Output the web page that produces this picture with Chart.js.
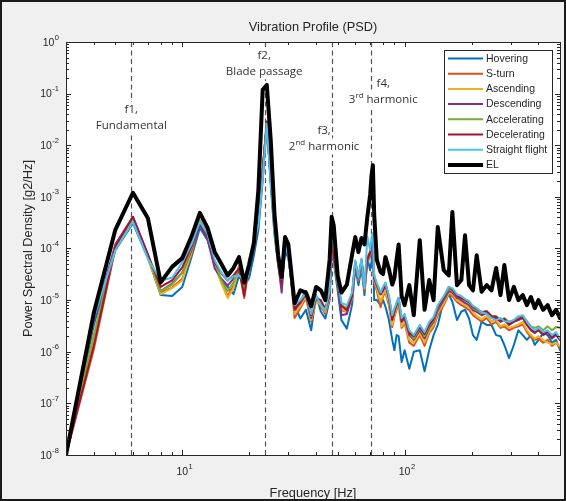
<!DOCTYPE html>
<html>
<head>
<meta charset="utf-8">
<title>Vibration Profile (PSD)</title>
<script src="https://cdn.jsdelivr.net/npm/chart.js@4.4.1/dist/chart.umd.min.js"></script>
<style>
  html, body { margin: 0; padding: 0; background: #f0f0f0; }
  canvas { display: block; }
</style>
</head>
<body>
<canvas id="chart" width="566" height="501"></canvas>
<script>
// frequency bins [Hz], shared by every series
const freq = [
  3, 4, 5, 6, 7, 8, 9, 10, 11, 12, 13, 14, 15, 16, 17, 18, 19, 20, 21, 22, 23, 24, 25, 26, 27, 28, 29, 30,
  32, 34, 36, 38, 40, 42, 44, 46, 47, 48, 50,
  52, 55, 58, 60, 62, 64, 66, 68, 70, 71, 72, 73, 75, 78, 80, 82, 85, 88, 90, 92, 94, 97, 100,
  105, 110, 117, 123, 129, 135, 141, 150, 158, 164, 172, 180, 187, 195, 203, 211, 222, 234, 246, 258,
  270, 281, 295, 310, 325, 340, 355, 370, 385, 400, 420, 440, 460, 480, 500
];

// PSD values [g2/Hz]
const hovering = [
  1e-8, 3.3e-6, 9.3e-5, 3.1e-4, 6.6e-5, 1.25e-5, 1.2e-5, 1.8e-5, 6.8e-5, 2.5e-4, 1.45e-4, 4.8e-5, 2.45e-5, 1.8e-5,
  1.3e-5, 3e-5, 1.85e-5, 2.7e-5, 7.4e-5, 2.3e-4, 2.1e-3, 2.5e-2, 1.7e-3, 1.8e-4, 4.8e-5, 1.95e-5, 8.5e-5, 6.6e-5,
  8e-6, 4.4e-6, 6.5e-6, 2.6e-6, 1.25e-5, 6e-6, 4.4e-6, 1e-5, 9.3e-5, 5.5e-5, 1.55e-5,
  4.1e-6, 2.8e-6, 8e-6, 4.2e-5, 1.95e-5, 4.2e-5, 1.25e-5, 6.6e-5, 3.8e-5, 5.5e-5, 1.17e-4, 1e-5, 1e-5, 8e-6,
  1e-5, 7.5e-6, 4.1e-6, 1.7e-6, 1.07e-6, 2.1e-6, 2e-6, 6.3e-7, 1.07e-6,
  4.7e-7, 1e-6, 1.07e-6, 4.2e-7, 1.07e-6, 2.1e-6, 3.3e-6, 1e-5, 1.3e-5, 9.3e-6, 4.1e-6, 6e-6, 6.5e-6, 4.4e-6,
  2.1e-6, 1.7e-6, 3.8e-6, 3.3e-6, 3.3e-6, 2.1e-6, 2e-6, 1.35e-6, 7.5e-7, 1.35e-6, 2.6e-6, 2.1e-6, 1.7e-6,
  2.1e-6, 1.35e-6, 1.7e-6, 2.3e-6, 2.1e-6, 1.5e-6, 1.7e-6, 1.07e-6
];
const sTurn = [
  1e-8, 1.1e-6, 1e-4, 3.9e-4, 7e-5, 1.4e-5, 1.75e-5, 2.6e-5, 7.7e-5, 3.3e-4, 1.75e-4, 4.7e-5, 2.2e-5, 1.2e-5,
  1.9e-5, 4.1e-5, 1.1e-5, 4.7e-5, 1e-4, 3.3e-4, 3e-3, 2.6e-2, 2.1e-3, 2.3e-4, 4.7e-5, 1.9e-5, 1.3e-4, 8.4e-5,
  4.5e-6, 7e-6, 1.1e-5, 3.8e-6, 1e-5, 7.7e-6, 5.4e-6, 1.1e-5, 1.6e-4, 6.4e-5, 2.1e-5,
  6.4e-6, 5.9e-6, 1.1e-5, 4.9e-5, 2.4e-5, 5.1e-5, 1.5e-5, 5.4e-5, 7e-5, 9.2e-5, 8.4e-5, 2.2e-5, 1.5e-5, 7.3e-6,
  1.2e-5, 1.4e-5, 8e-6, 3e-6, 4.7e-6, 6.4e-6, 8.4e-6, 2.9e-6, 3.6e-6,
  1.5e-6, 1.3e-6, 2.1e-6, 1.3e-6, 2.3e-6, 3e-6, 5.1e-6, 8e-6, 1.3e-5, 1.2e-5, 9.2e-6, 8e-6, 7.3e-6, 6.4e-6,
  5.1e-6, 4.5e-6, 3.8e-6, 4.5e-6, 3.4e-6, 3.8e-6, 2.9e-6, 3.1e-6, 2.6e-6, 2.9e-6, 3.1e-6, 3.4e-6, 2.4e-6,
  1.9e-6, 1.7e-6, 1.8e-6, 1.5e-6, 1.7e-6, 1.3e-6, 1.5e-6, 1.2e-6
];
const ascending = [
  1e-8, 1.7e-6, 1.1e-4, 3.8e-4, 6.7e-5, 1.3e-5, 1.7e-5, 2.4e-5, 8.4e-5, 3.6e-4, 1.9e-4, 5.1e-5, 2.1e-5, 1.1e-5,
  1.7e-5, 4.7e-5, 1.2e-5, 5.4e-5, 1.1e-4, 3.6e-4, 3.3e-3, 2.7e-2, 2.3e-3, 2.5e-4, 5.4e-5, 2.2e-5, 1.5e-4, 9.2e-5,
  5.4e-6, 7.7e-6, 1.2e-5, 4.1e-6, 9.6e-6, 8e-6, 5.9e-6, 1.1e-5, 1.8e-4, 6.7e-5, 2.2e-5,
  6.7e-6, 6.1e-6, 1.1e-5, 5.1e-5, 2.5e-5, 5.4e-5, 1.7e-5, 5.9e-5, 7.7e-5, 1e-4, 9.2e-5, 2.4e-5, 1.7e-5, 9.2e-6,
  1.3e-5, 1.5e-5, 9.2e-6, 3.3e-6, 5.1e-6, 7e-6, 9.2e-6, 3.1e-6, 3.9e-6,
  1.7e-6, 1.5e-6, 2.3e-6, 1.5e-6, 2.5e-6, 3.3e-6, 5.6e-6, 8.8e-6, 1.4e-5, 1.3e-5, 1e-5, 9.2e-6, 8e-6, 7.3e-6,
  5.9e-6, 4.9e-6, 4.3e-6, 4.9e-6, 3.9e-6, 4.1e-6, 3.1e-6, 3.4e-6, 2.9e-6, 3.1e-6, 3.4e-6, 3.8e-6, 2.6e-6,
  2.1e-6, 1.8e-6, 2e-6, 1.7e-6, 1.5e-6, 1.4e-6, 1.5e-6, 1.3e-6
];
const descending = [
  1e-8, 3.8e-6, 1.2e-4, 4.1e-4, 7.7e-5, 1.5e-5, 2.1e-5, 3.4e-5, 9.2e-5, 2.9e-4, 1.5e-4, 4.1e-5, 2.6e-5, 1.9e-5,
  2.6e-5, 3.8e-5, 1.4e-5, 5.4e-5, 1.1e-4, 3.4e-4, 3.1e-3, 2.6e-2, 2.2e-3, 2.4e-4, 5.1e-5, 1.4e-5, 1.2e-4, 7.3e-5,
  6.4e-6, 8.8e-6, 1.3e-5, 4.5e-6, 1.1e-5, 8.8e-6, 6.4e-6, 1.2e-5, 1.7e-4, 7.3e-5, 2.4e-5,
  5.1e-6, 5.4e-6, 1.2e-5, 4.7e-5, 2.6e-5, 5.6e-5, 1.8e-5, 6.1e-5, 8e-5, 1.1e-4, 1.1e-4, 2.6e-5, 1.9e-5, 1.3e-5,
  1.5e-5, 1.9e-5, 1.1e-5, 4.1e-6, 5.9e-6, 8e-6, 1e-5, 3.8e-6, 4.5e-6,
  2.1e-6, 1.7e-6, 2.6e-6, 1.8e-6, 2.9e-6, 3.8e-6, 6.4e-6, 1e-5, 1.5e-5, 1.4e-5, 1.1e-5, 1e-5, 8.8e-6, 8e-6,
  6.4e-6, 5.9e-6, 5.1e-6, 5.6e-6, 4.5e-6, 4.5e-6, 3.8e-6, 4.1e-6, 3.3e-6, 3.8e-6, 4.1e-6, 4.5e-6, 3.3e-6,
  2.6e-6, 2.3e-6, 2.6e-6, 2.1e-6, 2.4e-6, 1.8e-6, 2.1e-6, 1.7e-6
];
const accelerating = [
  1e-8, 2.1e-6, 1.1e-4, 3.9e-4, 7.3e-5, 1.5e-5, 2e-5, 3.4e-5, 1e-4, 3.4e-4, 1.8e-4, 5.4e-5, 2.4e-5, 1.5e-5,
  2.2e-5, 4.5e-5, 1.5e-5, 5.9e-5, 1.2e-4, 3.6e-4, 3.3e-3, 2.7e-2, 2.3e-3, 2.5e-4, 5.4e-5, 2.4e-5, 1.6e-4, 9.2e-5,
  7e-6, 1e-5, 1.5e-5, 4.9e-6, 1.2e-5, 9.2e-6, 7e-6, 1.3e-5, 2.3e-4, 8e-5, 2.6e-5,
  8e-6, 7e-6, 1.3e-5, 5.4e-5, 2.9e-5, 6.1e-5, 2e-5, 6.7e-5, 8.8e-5, 1.2e-4, 1.2e-4, 2.9e-5, 2.1e-5, 1.4e-5,
  1.7e-5, 2.1e-5, 1.2e-5, 4.5e-6, 6.4e-6, 8.8e-6, 1.1e-5, 4.1e-6, 5.1e-6,
  2.4e-6, 1.8e-6, 2.9e-6, 2e-6, 3.1e-6, 4.1e-6, 7e-6, 1.1e-5, 1.7e-5, 1.5e-5, 1.2e-5, 1.1e-5, 1e-5, 8.8e-6,
  7e-6, 6.4e-6, 5.6e-6, 6.1e-6, 4.9e-6, 4.9e-6, 4.1e-6, 4.5e-6, 3.8e-6, 4.1e-6, 4.5e-6, 4.9e-6, 3.9e-6,
  3.1e-6, 2.9e-6, 3.1e-6, 2.6e-6, 3.1e-6, 2.6e-6, 3e-6, 2.9e-6
];
const decelerating = [
  1e-8, 1.3e-6, 1.1e-4, 4.1e-4, 7.7e-5, 1.8e-5, 2.4e-5, 4.3e-5, 1.1e-4, 3.1e-4, 1.8e-4, 5.4e-5, 3.3e-5, 2.4e-5,
  3e-5, 4.1e-5, 1.2e-5, 5.9e-5, 1.2e-4, 3.8e-4, 3.4e-3, 2.9e-2, 2.4e-3, 2.6e-4, 5.6e-5, 2.1e-5, 1.4e-4, 9.2e-5,
  6.7e-6, 9.2e-6, 1.5e-5, 5.1e-6, 1.1e-5, 1e-5, 6.7e-6, 1.3e-5, 1.8e-4, 7e-5, 2.5e-5,
  7.7e-6, 6.4e-6, 1.2e-5, 5.6e-5, 2.7e-5, 5.9e-5, 2.1e-5, 6.4e-5, 8.4e-5, 1.2e-4, 1.3e-4, 2.7e-5, 2e-5, 1.3e-5,
  1.6e-5, 2.1e-5, 1.1e-5, 4.3e-6, 6.1e-6, 8.4e-6, 1.1e-5, 3.9e-6, 4.9e-6,
  2.3e-6, 2e-6, 3e-6, 2.2e-6, 3.3e-6, 4.3e-6, 7.3e-6, 1.1e-5, 1.8e-5, 1.6e-5, 1.2e-5, 1.1e-5, 1e-5, 9.2e-6,
  7.3e-6, 6.7e-6, 5.9e-6, 6.1e-6, 4.9e-6, 4.7e-6, 3.9e-6, 4.3e-6, 3.4e-6, 3.9e-6, 4.3e-6, 4.7e-6, 3.4e-6,
  2.7e-6, 2.4e-6, 2.7e-6, 2.2e-6, 2.5e-6, 1.9e-6, 2.2e-6, 1.7e-6
];
const straightFlight = [
  1e-8, 4.5e-6, 9.2e-5, 3.3e-4, 6.4e-5, 2.4e-5, 2.7e-5, 5.4e-5, 1.2e-4, 3.3e-4, 1.9e-4, 5.9e-5, 3.4e-5, 2.4e-5,
  2.9e-5, 3e-5, 2.4e-5, 6.4e-5, 1.3e-4, 2.9e-4, 2.3e-3, 2.6e-2, 1.9e-3, 2.1e-4, 5.9e-5, 2.6e-5, 1.2e-4, 7.3e-5,
  8e-6, 1e-5, 1.4e-5, 5.4e-6, 1.2e-5, 8e-6, 6.4e-6, 1.5e-5, 2e-4, 1.3e-4, 2.7e-5,
  8.8e-6, 8e-6, 1.4e-5, 5.9e-5, 2.7e-5, 6.4e-5, 1.7e-5, 1.7e-4, 9.2e-5, 1.6e-4, 2e-4, 3e-5, 2.1e-5, 1.4e-5,
  1.8e-5, 2.2e-5, 1.2e-5, 5.1e-6, 7e-6, 8.8e-6, 1.1e-5, 4.5e-6, 5.4e-6,
  2.6e-6, 2.1e-6, 3.3e-6, 2.4e-6, 3.8e-6, 4.7e-6, 8e-6, 1.2e-5, 1.8e-5, 1.7e-5, 1.3e-5, 1.2e-5, 1.05e-5, 9.6e-6,
  7.7e-6, 7e-6, 5.9e-6, 5.4e-6, 4.5e-6, 4.1e-6, 4.5e-6, 3.9e-6, 3.8e-6, 4.1e-6, 4.9e-6, 5.1e-6, 3.8e-6,
  3e-6, 2.6e-6, 2.9e-6, 2.4e-6, 2.6e-6, 2.1e-6, 2.4e-6, 1.8e-6
];
const envelope = [
  1e-8, 5.6e-6, 2.3e-4, 1.2e-3, 3.9e-4, 2.2e-5, 4.4e-5, 6.5e-5, 1.7e-4, 4.9e-4, 2.5e-4, 8.5e-5, 5e-5, 3e-5,
  4.2e-5, 6.8e-5, 2.2e-5, 4.8e-5, 1.3e-4, 1.35e-3, 0.118, 0.147, 0.0126, 4.5e-4, 7.4e-5, 2.8e-5, 1.66e-4, 1.2e-4,
  8.7e-6, 1.55e-5, 1.4e-5, 7.6e-6, 1.8e-5, 1.55e-5, 1e-5, 6e-5, 4.1e-4, 2.8e-4, 3e-5,
  1.4e-5, 2e-5, 7.4e-5, 1.66e-4, 8.5e-5, 1.6e-4, 1.2e-4, 4.1e-4, 1.1e-3, 2.6e-3, 4.1e-3, 4.5e-4, 6e-5, 3.5e-5,
  3.2e-5, 6.8e-5, 4e-5, 2e-5, 2.7e-5, 6e-5, 1.2e-4, 1.2e-5, 8e-6,
  1.95e-5, 5.1e-6, 1.45e-4, 6.5e-6, 2.45e-5, 1e-5, 2.6e-4, 3.8e-5, 3e-5, 5.1e-4, 1.95e-5, 2.45e-5, 1.8e-4, 1.95e-5,
  1.55e-5, 7.4e-5, 1.45e-5, 1.95e-5, 1.55e-5, 4.2e-5, 1.25e-5, 4.8e-5, 1e-5, 1.8e-5, 1e-5, 1.25e-5, 8e-6,
  1.15e-5, 7e-6, 1e-5, 6.5e-6, 8e-6, 5.1e-6, 6.5e-6, 4.5e-6
];

const seriesNames = ['Hovering', 'S-turn', 'Ascending', 'Descending', 'Accelerating', 'Decelerating', 'Straight flight', 'EL'];
const seriesData = [hovering, sTurn, ascending, descending, accelerating, decelerating, straightFlight, envelope];
const seriesColors = ['#0072BD', '#D95319', '#EDB120', '#7E2F8E', '#77AC30', '#A2142F', '#4DBEEE', '#000000'];

// dashed reference lines and their notes
const markerFreqs = [5.9, 23.6, 47.2, 70.8];
const markerNotes = [
  [[['f1,']], [['Fundamental']]],
  [[['f2,']], [['Blade passage']]],
  [[['f3,']], [['2'], ['nd', true], [' harmonic']]],
  [[['f4,']], [['3'], ['rd', true], [' harmonic']]]
];
const markerNoteAt = [0.048, 0.54, 0.019, 0.153];
const noteShift = [0, -1, -8, 12];

const FONT = '"Liberation Sans", Arial, Helvetica, sans-serif';
const INK = '#262626';

function drawPow10(ctx, exp, x, y, mode) {
  const sup = String(exp);
  ctx.font = '10.5px ' + FONT;
  const bw = ctx.measureText('10').width;
  ctx.font = '7.5px ' + FONT;
  const sw = ctx.measureText(sup).width;
  let bx;
  if (mode === 'right') bx = x - sw - bw - 0.5;
  else bx = x - bw / 2;
  ctx.textAlign = 'left';
  ctx.textBaseline = 'middle';
  ctx.font = '10.5px ' + FONT;
  ctx.fillText('10', bx, y + 1);
  ctx.font = '7.5px ' + FONT;
  ctx.fillText(sup, bx + bw + 0.5, y - 4.5);
}

const matlabAxes = {
  id: 'matlabAxes',
  beforeDraw(chart) {
    const {ctx, chartArea: a} = chart;
    ctx.save();
    ctx.fillStyle = '#ffffff';
    ctx.fillRect(a.left, a.top, a.right - a.left, a.bottom - a.top);
    ctx.restore();
  },
  beforeDatasetsDraw(chart) {
    const {ctx, chartArea: a, scales: {x}} = chart;
    ctx.save();
    ctx.strokeStyle = '#555555';
    ctx.lineWidth = 1.2;
    ctx.setLineDash([5, 3.5]);
    markerFreqs.forEach(f => {
      const px = Math.round(x.getPixelForValue(f)) + 0.5;
      ctx.beginPath();
      ctx.moveTo(px, a.top);
      ctx.lineTo(px, a.bottom);
      ctx.stroke();
    });
    ctx.restore();
  },
  afterDatasetsDraw(chart) {
    const {ctx, chartArea: a, scales: {x, y}} = chart;
    ctx.save();

    // notes on the dashed lines
    markerNotes.forEach((lines, i) => {
      const cx = x.getPixelForValue(markerFreqs[i]) + noteShift[i];
      const cy0 = y.getPixelForValue(markerNoteAt[i]);
      lines.forEach((segs, li) => {
        const cy = cy0 + li * 15.5;
        let w = 0;
        const parts = segs.map(([t, sup]) => {
          ctx.font = (sup ? '8px ' : '11.5px ') + '"Open Sans", "Noto Sans", sans-serif';
          const tw = ctx.measureText(t).width;
          w += tw;
          return {t, sup, tw};
        });
        let px = cx - w / 2;
        ctx.fillStyle = '#ffffff';
        ctx.fillRect(px - 1, cy - 8, w + 2, 16);
        ctx.fillStyle = '#333333';
        ctx.textBaseline = 'middle';
        ctx.textAlign = 'left';
        parts.forEach(p => {
          ctx.font = (p.sup ? '8px ' : '11.5px ') + '"Open Sans", "Noto Sans", sans-serif';
          ctx.fillText(p.t, px, p.sup ? cy - 4 : cy);
          px += p.tw;
        });
      });
    });

    // axes box
    ctx.strokeStyle = INK;
    ctx.lineWidth = 1;
    ctx.strokeRect(Math.round(a.left) + 0.5, Math.round(a.top) + 0.5,
      Math.round(a.right - a.left), Math.round(a.bottom - a.top));

    // ticks on all four sides, pointing inwards
    ctx.beginPath();
    for (let d = 0; d <= 3; d++) {
      for (let k = 1; k <= 9; k++) {
        const v = k * Math.pow(10, d);
        if (v < 3 || v > 500) continue;
        const px = Math.round(x.getPixelForValue(v)) + 0.5;
        const len = k === 1 ? 5 : 3;
        ctx.moveTo(px, a.bottom); ctx.lineTo(px, a.bottom - len);
        ctx.moveTo(px, a.top); ctx.lineTo(px, a.top + len);
      }
    }
    for (let d = -8; d <= 0; d++) {
      for (let k = 1; k <= 9; k++) {
        const v = k * Math.pow(10, d);
        if (v > 1) continue;
        const py = Math.round(y.getPixelForValue(v)) + 0.5;
        const len = k === 1 ? 5 : 3;
        ctx.moveTo(a.left, py); ctx.lineTo(a.left + len, py);
        ctx.moveTo(a.right, py); ctx.lineTo(a.right - len, py);
      }
    }
    ctx.stroke();

    // tick labels with superscript exponents
    ctx.fillStyle = INK;
    for (let d = -8; d <= 0; d++) {
      drawPow10(ctx, d, a.left - 7, y.getPixelForValue(Math.pow(10, d)), 'right');
    }
    [1, 2].forEach(d => {
      drawPow10(ctx, d, x.getPixelForValue(Math.pow(10, d)), a.bottom + 16, 'center');
    });

    // legend box
    const lw = 108, lh = 123;
    const lx = Math.round(a.right - 8 - lw), ly = Math.round(a.top + 8);
    ctx.fillStyle = '#ffffff';
    ctx.fillRect(lx, ly, lw, lh);
    ctx.strokeStyle = INK;
    ctx.lineWidth = 1;
    ctx.strokeRect(lx + 0.5, ly + 0.5, lw, lh);
    chart.data.datasets.forEach((ds, i) => {
      const cy = ly + 8.5 + i * 15.2;
      ctx.strokeStyle = ds.borderColor;
      ctx.lineWidth = ds.borderWidth;
      ctx.beginPath();
      ctx.moveTo(lx + 4, cy);
      ctx.lineTo(lx + 39, cy);
      ctx.stroke();
      ctx.fillStyle = INK;
      ctx.font = '10.5px ' + FONT;
      ctx.textAlign = 'left';
      ctx.textBaseline = 'middle';
      ctx.fillText(ds.label, lx + 42, cy + 0.5);
    });

    ctx.restore();
  },
  afterDraw(chart) {
    const ctx = chart.ctx;
    ctx.save();
    ctx.strokeStyle = '#1a1a1a';
    ctx.lineWidth = 2;
    ctx.strokeRect(1, 1, chart.width - 2, chart.height - 2);
    ctx.restore();
  }
};

const datasets = seriesNames.map((name, i) => ({
  label: name,
  data: freq.map((f, j) => ({x: f, y: seriesData[i][j]})),
  borderColor: seriesColors[i],
  backgroundColor: seriesColors[i],
  borderWidth: name === 'EL' ? 4 : 2,
  pointRadius: 0,
  borderJoinStyle: 'round',
  borderCapStyle: 'round',
  tension: 0,
  fill: false,
  order: seriesNames.length - 1 - i
}));

new Chart(document.getElementById('chart').getContext('2d'), {
  type: 'line',
  data: {datasets},
  options: {
    responsive: false,
    maintainAspectRatio: false,
    devicePixelRatio: 1,
    animation: false,
    events: [],
    layout: {padding: {left: 0, right: 6, top: 0, bottom: 0}},
    plugins: {
      legend: {display: false},
      tooltip: {enabled: false},
      title: {
        display: true,
        text: 'Vibration Profile (PSD)',
        color: INK,
        fullSize: false,
        font: {family: FONT, size: 12.8, weight: 'normal'},
        padding: {top: 20, bottom: 6.6}
      }
    },
    scales: {
      x: {
        type: 'logarithmic',
        min: 3,
        max: 500,
        grid: {display: false},
        border: {display: false},
        ticks: {display: false},
        title: {
          display: true,
          text: 'Frequency [Hz]',
          color: INK,
          font: {family: FONT, size: 12.8},
          padding: {top: 3.3, bottom: 0}
        },
        afterFit(scale) { scale.height = 46; }
      },
      y: {
        type: 'logarithmic',
        min: 1e-8,
        max: 1,
        grid: {display: false},
        border: {display: false},
        ticks: {display: false},
        title: {
          display: true,
          text: 'Power Spectral Density [g2/Hz]',
          color: INK,
          font: {family: FONT, size: 12.8},
          padding: {top: 20.3, bottom: 0}
        },
        afterFit(scale) { scale.width = 66; }
      }
    }
  },
  plugins: [matlabAxes]
});
</script>
</body>
</html>
